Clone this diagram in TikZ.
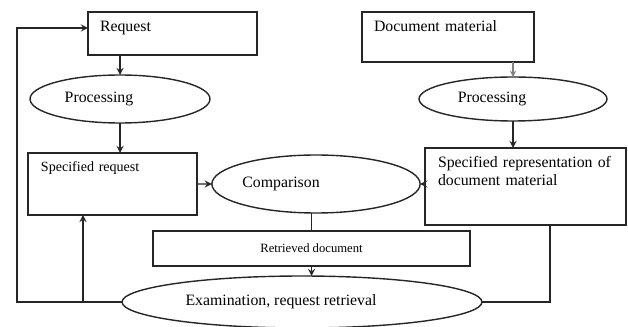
\documentclass[tikz,border=0pt]{standalone}
\usepackage{fontspec}
\setmainfont{Liberation Serif}
\usetikzlibrary{shapes,arrows}

\begin{document}
\begin{tikzpicture}[
      x = 0.02cm, y = -0.02cm,
      > = stealth,
      line width = 0.8pt,
      draw = black!85]
      \tikzstyle{box}=[
      draw, rectangle,
      anchor = north west,
      outer sep = 0pt,
      inner ysep = 0pt,
      align = left,
      font = \fontsize{9}{10.2}\selectfont]
      \tikzstyle{oval}=[
      draw, ellipse,
      outer sep = 0pt,
      inner sep = 0pt,
      execute at end node = \hspace*{0.84cm},
      font = \fontsize{9}{11}\selectfont]

      \useasboundingbox (0,0) rectangle (628,327);

      \node[box, inner xsep=0.24cm, text width=2.9cm, text height=0.39cm, text depth=0.47cm] (req) at (88,12) {Request};
      \node[box, inner xsep=0.24cm, text width=2.96cm, text height=0.39cm, text depth=0.61cm] (doc) at (362,12) {Document material};
      \node[oval, minimum width=3.6cm, minimum height=0.96cm] (proc1) at (120,99) {Processing};
      \node[oval, minimum width=3.76cm, minimum height=0.88cm] (proc2) at (513,99) {Processing};
      \node[box, inner xsep=0.26cm, text width=2.86cm, text height=0.38cm, text depth=0.86cm, font=\fontsize{8}{10}\selectfont] (spreq) at (28,153) {Specified request};
      \node[box, inner xsep=0.26cm, text width=3.5cm, text height=0.4cm, text depth=1.14cm] (sprep) at (425,148) {Specified representation of\\document material};
      \node[oval, minimum width=3.48cm, minimum height=1.16cm, execute at end node=\hspace*{0.56cm}] (cmp) at (316,184) {Comparison};
      \node[draw, rectangle, minimum width=6.34cm, minimum height=0.7cm, outer sep=0pt, font=\fontsize{7.2}{9}\selectfont] (ret) at (311.5,248.5) {Retrieved document};
      \node[oval, minimum width=7.2cm, minimum height=1.04cm] (exam) at (302,302) {Examination, request retrieval};

      \coordinate (lt) at (17,28);
      \coordinate (br) at (83,302);
      \coordinate (rt) at (550,302);

      \path[->] (req.south -| proc1.north) edge (proc1.north);
      \path[->] (proc1.south) edge (proc1.south |- spreq.north);
      \draw[->, gray, line width=0.6pt] (doc.south -| proc2.north) -- (proc2.north);
      \path[->] (proc2.south) edge (proc2.south |- sprep.north);
      \path[->] (spreq.east) edge (cmp.west);
      \path[->] (cmp.east -| sprep.west) edge (cmp.east);
      \draw (ret.north |- cmp.south) -- (ret.north);
      \path[->] (ret.south) edge (ret.south |- exam.north);
      \draw[->] (exam.west) -| (lt) -- (lt -| req.west);
      \draw[->] (br) -- (br |- spreq.south);
      \draw (rt |- sprep.south) -- (rt) -- (exam.east);
\end{tikzpicture}
\end{document}
